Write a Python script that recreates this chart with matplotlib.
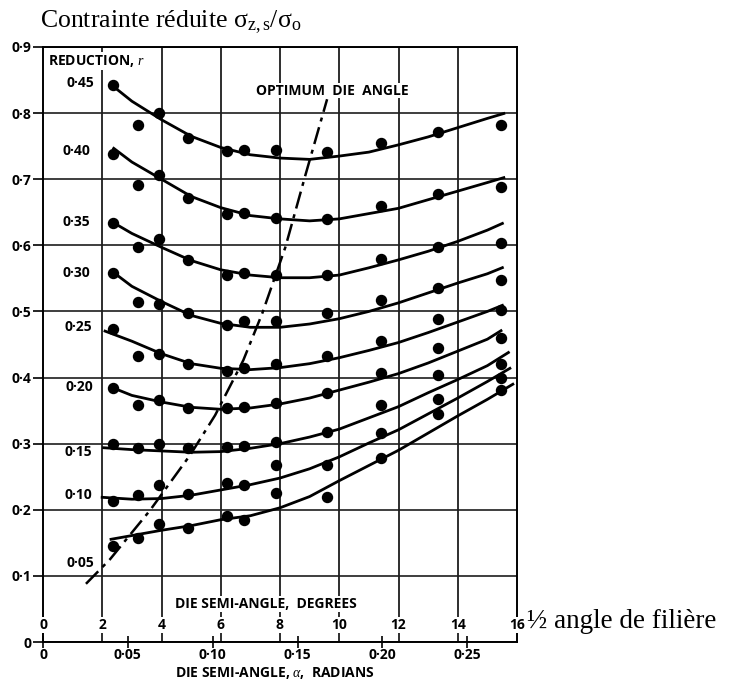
import numpy as np
import matplotlib
matplotlib.use('Agg')
import matplotlib.pyplot as plt

plt.rcParams['mathtext.fontset'] = 'custom'
plt.rcParams['mathtext.rm'] = 'Liberation Serif'
plt.rcParams['mathtext.it'] = 'Liberation Serif:italic'
plt.rcParams['mathtext.bf'] = 'Liberation Serif:bold'

W, H, DPI = 730, 684, 100
CHART_FONT = ['Open Sans', 'DejaVu Sans']
SERIF = ['Liberation Serif', 'DejaVu Serif']

# ---------------- data ----------------
# abscissae of the measured points (die semi-angle, degrees)
x_points_deg = [2.35, 3.2, 3.9, 4.9, 6.2, 6.8, 7.85, 9.6, 11.4, 13.35, 15.45]

reduction_labels = ['0·45', '0·40', '0·35', '0·30', '0·25', '0·20', '0·15', '0·10', '0·05']

pts_045 = [0.843, 0.782, 0.800, 0.762, 0.742, 0.744, 0.744, 0.741, 0.755, 0.771, 0.782]
pts_040 = [0.738, 0.692, 0.706, 0.671, 0.648, 0.649, 0.642, 0.640, 0.660, 0.678, 0.688]
pts_035 = [0.634, 0.598, 0.609, 0.578, 0.555, 0.558, 0.555, 0.555, 0.580, 0.597, 0.603]
pts_030 = [0.558, 0.514, 0.512, 0.498, 0.480, 0.486, 0.485, 0.497, 0.518, 0.536, 0.548]
pts_025 = [0.473, 0.433, 0.436, 0.421, 0.410, 0.414, 0.421, 0.433, 0.456, 0.489, 0.502]
pts_020 = [0.384, 0.358, 0.366, 0.354, 0.354, 0.355, 0.361, 0.376, 0.407, 0.445, 0.460]
pts_015 = [0.300, 0.294, 0.300, 0.294, 0.295, 0.297, 0.303, 0.318, 0.358, 0.404, 0.421]
pts_010 = [0.214, 0.222, 0.238, 0.224, 0.240, 0.238, 0.268, 0.267, 0.316, 0.367, 0.400]
pts_005 = [0.145, 0.157, 0.178, 0.173, 0.191, 0.185, 0.225, 0.219, 0.279, 0.345, 0.381]

# fitted curves
cx_045 = [2.33, 3, 4, 5, 6, 7, 8, 9, 10, 11, 12, 13, 14, 15, 15.6]
cy_045 = [0.842, 0.818, 0.790, 0.765, 0.748, 0.737, 0.732, 0.730, 0.735, 0.741, 0.752, 0.764, 0.778, 0.792, 0.800]
cx_040 = [2.35, 3, 4, 5, 6, 7, 8, 9, 10, 11, 12, 13, 14, 15, 15.6]
cy_040 = [0.748, 0.726, 0.700, 0.674, 0.657, 0.645, 0.640, 0.637, 0.640, 0.648, 0.656, 0.669, 0.682, 0.695, 0.703]
cx_035 = [2.35, 3, 4, 5, 6, 7, 8, 9, 10, 11, 12, 13, 14, 15, 15.55]
cy_035 = [0.635, 0.618, 0.597, 0.577, 0.563, 0.555, 0.551, 0.551, 0.555, 0.566, 0.578, 0.591, 0.606, 0.623, 0.634]
cx_030 = [2.38, 3, 4, 5, 6, 7, 8, 9, 10, 11, 12, 13, 14, 15, 15.55]
cy_030 = [0.559, 0.538, 0.515, 0.494, 0.482, 0.476, 0.476, 0.481, 0.489, 0.500, 0.513, 0.528, 0.543, 0.557, 0.567]
cx_025 = [2.05, 3, 4, 5, 6, 7, 8, 9, 10, 11, 12, 13, 14, 15, 15.55]
cy_025 = [0.471, 0.455, 0.436, 0.421, 0.414, 0.412, 0.415, 0.421, 0.430, 0.441, 0.453, 0.468, 0.484, 0.500, 0.510]
cx_020 = [2.33, 3, 4, 5, 6, 7, 8, 9, 10, 11, 12, 13, 14, 15, 15.5]
cy_020 = [0.385, 0.373, 0.363, 0.355, 0.352, 0.354, 0.360, 0.369, 0.381, 0.393, 0.406, 0.422, 0.440, 0.458, 0.472]
cx_015 = [2.0, 3, 4, 5, 6, 7, 8, 9, 10, 11, 12, 13, 14, 15, 15.75]
cy_015 = [0.294, 0.291, 0.289, 0.287, 0.288, 0.293, 0.300, 0.310, 0.322, 0.339, 0.356, 0.377, 0.397, 0.418, 0.439]
cx_010 = [1.95, 3, 4, 5, 6, 7, 8, 9, 10, 11, 12, 13, 14, 15, 15.8]
cy_010 = [0.219, 0.216, 0.217, 0.222, 0.230, 0.238, 0.248, 0.262, 0.280, 0.301, 0.321, 0.345, 0.369, 0.394, 0.415]
cx_005 = [2.25, 3, 4, 5, 6, 7, 8, 9, 10, 11, 12, 13, 14, 15, 15.9]
cy_005 = [0.155, 0.161, 0.169, 0.176, 0.185, 0.191, 0.203, 0.220, 0.244, 0.267, 0.290, 0.316, 0.342, 0.367, 0.391]

# optimum die angle line
opt_x = [1.45, 2.26, 3.61, 4.97, 5.81, 6.76, 7.40, 8.18, 8.85, 9.59]
opt_y = [0.088, 0.125, 0.199, 0.283, 0.343, 0.426, 0.497, 0.597, 0.705, 0.821]

# axes ticks
y_ticks = [0, 0.1, 0.2, 0.3, 0.4, 0.5, 0.6, 0.7, 0.8, 0.9]
y_tick_labels = ['0', '0·1', '0·2', '0·3', '0·4', '0·5', '0·6', '0·7', '0·8', '0·9']
deg_ticks = [0, 2, 4, 6, 8, 10, 12, 14, 16]
deg_tick_labels = ['0', '2', '4', '6', '8', '10', '12', '14', '16']
rad_ticks = [0, 0.05, 0.10, 0.15, 0.20, 0.25]
rad_tick_labels = ['0', '0·05', '0·10', '0·15', '0·20', '0·25']

points = [pts_045, pts_040, pts_035, pts_030, pts_025, pts_020, pts_015, pts_010, pts_005]
curves = [(cx_045, cy_045), (cx_040, cy_040), (cx_035, cy_035), (cx_030, cy_030),
          (cx_025, cy_025), (cx_020, cy_020), (cx_015, cy_015), (cx_010, cy_010),
          (cx_005, cy_005)]
label_pos = [(1.25, 0.846), (1.12, 0.743), (1.12, 0.635), (1.12, 0.558), (1.18, 0.476),
             (1.22, 0.386), (1.18, 0.288), (1.18, 0.222), (1.25, 0.120)]

# ---------------- figure ----------------
fig = plt.figure(figsize=(W / DPI, H / DPI), dpi=DPI)
ax = fig.add_axes([43 / W, (H - 642) / H, 474 / W, 595 / H])
ax.set_xlim(0, 16)
ax.set_ylim(0, 0.9)

for s in ax.spines.values():
    s.set_color('black')
    s.set_linewidth(1.4)

FS = 10
ax.set_yticks(y_ticks)
ax.set_yticklabels(y_tick_labels, family=CHART_FONT, fontsize=FS, fontweight='bold')
ax.tick_params(axis='y', direction='out', length=7, width=1.2, pad=1.5, colors='black')
ax.grid(axis='y', color='#1e1e1e', lw=1.2)

ax.set_xticks(np.degrees(rad_ticks))
ax.set_xticklabels(rad_tick_labels, family=CHART_FONT, fontsize=FS, fontweight='bold')
ax.tick_params(axis='x', direction='inout', length=8, width=1.2, pad=0.3, colors='black')

for d in deg_ticks[1:-1]:
    ax.axvline(d, color='#1e1e1e', lw=1.3, zorder=1)

bbox_w = dict(fc='white', ec='none', pad=0.6)
for d, lbl in zip(deg_ticks, deg_tick_labels):
    ax.text(d, 0.026, lbl, ha='center', va='center', fontsize=FS, fontweight='bold',
            family=CHART_FONT, bbox=bbox_w, zorder=3)

ax.text(4.46, 0.057, 'DIE SEMI-ANGLE,  DEGREES', ha='left', va='center', fontsize=FS,
        fontweight='bold', family=CHART_FONT, bbox=bbox_w, zorder=3)
ax.text(4.46, -0.047, r'DIE SEMI-ANGLE, $\alpha$,  RADIANS', ha='left', va='center',
        fontsize=FS, fontweight='bold', family=CHART_FONT, clip_on=False)

for (cx, cy) in curves:
    ax.plot(cx, cy, color='black', lw=2.0, zorder=4, solid_capstyle='butt')
for py in points:
    ax.plot(x_points_deg, py, 'o', ms=7.2, color='black', zorder=5)

ax.plot(opt_x, opt_y, color='black', lw=1.8, dashes=(7, 2.4, 1.6, 2.4), zorder=4)

for (lx, ly), lbl in zip(label_pos, reduction_labels):
    ax.text(lx, ly, lbl, ha='center', va='center', fontsize=FS, fontweight='bold',
            family=CHART_FONT, zorder=3)

ax.text(0.17, 0.879, r'REDUCTION, $r$', ha='left', va='center', fontsize=FS,
        fontweight='bold', family=CHART_FONT, bbox=bbox_w, zorder=3)
ax.text(9.76, 0.834, 'OPTIMUM  DIE  ANGLE', ha='center', va='center', fontsize=FS,
        fontweight='bold', family=CHART_FONT, bbox=bbox_w, zorder=3)

fig.text(40 / W, 1 - 22 / H, r'Contrainte réduite σ$_{\mathrm{z,s}}$/σ$_{\mathrm{o}}$',
         family=SERIF, fontsize=18.5, va='center', ha='left')
fig.text(527 / W, 1 - 622 / H, '½ angle de filière', family=SERIF, fontsize=19.5,
         va='center', ha='left')

fig.savefig('out.png', dpi=DPI)
